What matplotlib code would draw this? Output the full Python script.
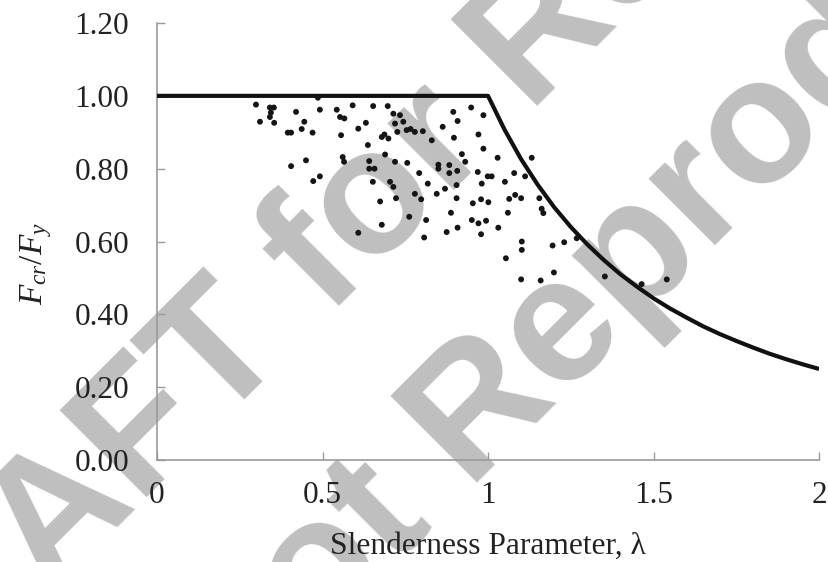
import matplotlib
matplotlib.use('Agg')  # no display
import matplotlib.pyplot as plt

# Test points (slenderness, Fcr/Fy)
lam_test = [0.299, 0.341, 0.353, 0.344, 0.341, 0.420, 0.492, 0.543, 0.591, 0.653,
            0.697, 0.311, 0.354, 0.445, 0.553, 0.566, 0.631, 0.608, 0.437, 0.395,
            0.405, 0.470, 0.556, 0.679, 0.687, 0.699, 0.637, 0.689, 0.450, 0.561,
            0.565, 0.641, 0.405, 0.641, 0.657, 0.492, 0.472, 0.652, 0.704, 0.486,
            0.714, 0.734, 0.719, 0.744, 0.726, 0.754, 0.766, 0.779, 0.803, 0.830,
            0.895, 0.949, 0.986, 0.908, 0.863, 0.897, 0.971, 0.986, 0.921, 0.931,
            1.029, 1.132, 0.719, 0.756, 0.850, 0.850, 0.883, 0.792, 0.883, 0.907,
            0.969, 0.999, 1.011, 1.079, 1.112, 1.051, 0.981, 0.818, 0.714, 0.870,
            0.905, 0.954, 0.979, 1.001, 1.064, 1.082, 1.100, 1.155, 1.162, 1.167,
            0.951, 0.971, 0.994, 1.060, 1.031, 0.979, 1.102, 1.102, 1.195, 1.230,
            1.268, 1.054, 1.100, 1.159, 1.199, 1.353, 1.464, 1.540, 0.722, 0.779,
            0.798, 0.845, 0.905, 0.762, 0.813, 0.888, 0.908, 0.875, 0.807, 0.674,
            0.679, 0.608]
fcr_test = [0.976, 0.968, 0.968, 0.954, 0.942, 0.956, 0.962, 0.962, 0.974, 0.972,
            0.972, 0.929, 0.926, 0.929, 0.942, 0.938, 0.926, 0.910, 0.909, 0.899,
            0.899, 0.899, 0.892, 0.887, 0.894, 0.883, 0.865, 0.839, 0.823, 0.832,
            0.819, 0.821, 0.807, 0.800, 0.800, 0.779, 0.766, 0.764, 0.764, 0.995,
            0.951, 0.947, 0.924, 0.929, 0.901, 0.906, 0.909, 0.901, 0.903, 0.878,
            0.956, 0.968, 0.947, 0.931, 0.915, 0.885, 0.894, 0.855, 0.840, 0.819,
            0.830, 0.830, 0.819, 0.816, 0.811, 0.800, 0.810, 0.788, 0.788, 0.794,
            0.791, 0.779, 0.779, 0.788, 0.779, 0.764, 0.759, 0.759, 0.750, 0.745,
            0.755, 0.705, 0.716, 0.708, 0.717, 0.728, 0.719, 0.719, 0.690, 0.678,
            0.659, 0.650, 0.657, 0.679, 0.638, 0.620, 0.600, 0.577, 0.589, 0.598,
            0.609, 0.554, 0.496, 0.493, 0.515, 0.504, 0.483, 0.496, 0.719, 0.731,
            0.716, 0.731, 0.719, 0.668, 0.659, 0.679, 0.638, 0.626, 0.611, 0.710,
            0.646, 0.624]

# Design curve: plateau then elastic branch, read at 0.05 steps
lam_curve = [0.00, 1.00, 1.05, 1.10, 1.15, 1.20, 1.25, 1.30, 1.35, 1.40, 1.45,
             1.50, 1.55, 1.60, 1.65, 1.70, 1.75, 1.80, 1.85, 1.90, 1.95, 2.00]
fcr_curve = [1.000, 1.000, 0.907, 0.826, 0.756, 0.694, 0.640, 0.592, 0.549, 0.510, 0.476,
             0.444, 0.416, 0.391, 0.367, 0.346, 0.327, 0.309, 0.292, 0.277, 0.263, 0.250]

x_ticks = [0, 0.5, 1, 1.5, 2]
x_labels = ['0', '0.5', '1', '1.5', '2']
y_ticks = [0.0, 0.2, 0.4, 0.6, 0.8, 1.0, 1.2]

plt.rcParams['font.family'] = ['Liberation Serif', 'DejaVu Serif']
plt.rcParams['mathtext.fontset'] = 'custom'
plt.rcParams['mathtext.rm'] = 'Liberation Serif'
plt.rcParams['mathtext.it'] = 'Liberation Serif:italic'

fig = plt.figure(figsize=(8.29, 5.62), dpi=100)
ax = fig.add_axes([0.1894, 0.1815, 0.7986, 0.7775])
ax.patch.set_facecolor('none')

# watermark behind everything, anchored at the baseline centre
wm = dict(rotation=45, rotation_mode='anchor', ha='center', va='baseline',
          fontsize=128, fontweight='bold', color='#bfbfbf',
          family='Liberation Sans', zorder=-5)
fig.text(0.5006, 0.5925, 'DRAFT for Review', **wm)
fig.text(0.6936, 0.3132, 'Do Not Reproduce', **wm)

ax.plot(lam_curve, fcr_curve, color='#111111', lw=3.0, solid_capstyle='butt', zorder=3)
ax.scatter(lam_test, fcr_test, s=18, color='#151515', edgecolors='none', zorder=4)

ax.set_xlim(0, 2)
ax.set_ylim(0, 1.2)
ax.set_xticks(x_ticks)
ax.set_xticklabels(x_labels)
ax.set_yticks(y_ticks)
ax.set_yticklabels([f'{v:.2f}' for v in y_ticks])

for side in ['top', 'right']:
    ax.spines[side].set_visible(False)
for side in ['left', 'bottom']:
    ax.spines[side].set_color('#9a9a9a')
    ax.spines[side].set_linewidth(1.2)
ax.tick_params(direction='in', length=6, width=1.0, color='#9a9a9a',
               labelsize=22.5, labelcolor='#222222')
ax.tick_params(axis='y', pad=20)
ax.tick_params(axis='x', pad=15)

ax.set_xlabel('Slenderness Parameter, λ', fontsize=22.7, color='#222222', labelpad=16)
ax.set_ylabel(r'$F_{cr}/F_{y}$', fontsize=24, color='#222222', labelpad=16)
ax.yaxis.set_label_coords(-0.155, 0.45)

fig.savefig('out.png', dpi=100)
